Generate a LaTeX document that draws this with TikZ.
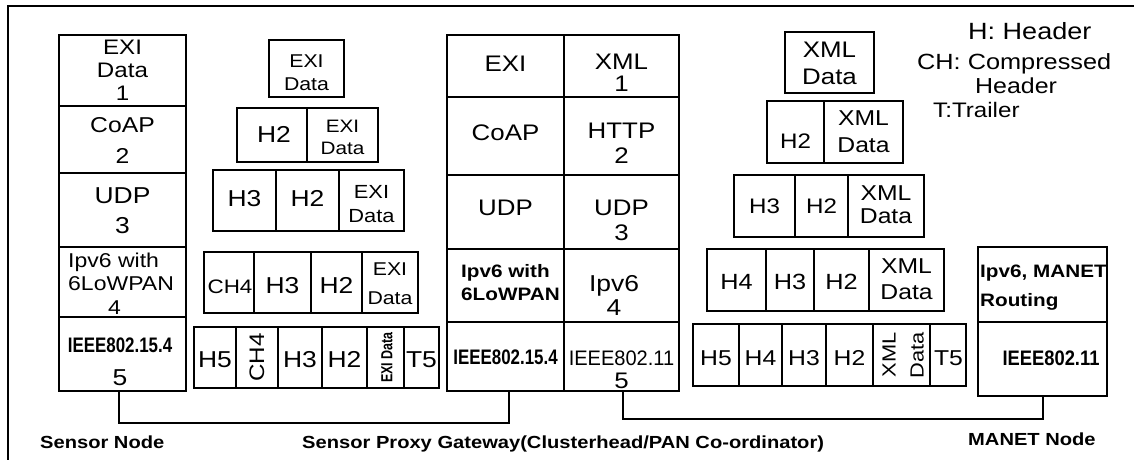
\documentclass[tikz,border=0pt]{standalone}
\usepackage{fontspec}
\usepackage{graphicx}
\setmainfont{Liberation Sans}[FakeStretch=1.15]
\usetikzlibrary{fit}
\newcommand{\fsz}[2]{\fontsize{#1}{#2}\selectfont}
\newcommand{\hsc}[2]{\scalebox{#1}[1]{#2}}
\newcommand{\ml}[1]{\begin{tabular}[t]{@{}c@{}}#1\end{tabular}}
\newcommand{\mll}[1]{\begin{tabular}[t]{@{}l@{}}#1\end{tabular}}
\begin{document}
\begin{tikzpicture}[x=1pt,y=-1pt,
  cell/.style={draw, line width=1.6pt, inner sep=0pt},
  t/.style={inner sep=0pt, anchor=base},
  wire/.style={draw, line width=1.6pt},
  lbl/.style={inner sep=0pt, anchor=base west, font=\bfseries\fsz{17.5}{20}},
  leg/.style={inner sep=0pt, anchor=base west}]
\useasboundingbox (0,0) rectangle (1134,460);
\fill[white] (0,0) rectangle (1134,460);
\draw[line width=1.6pt] (8,460) -- (8,6) -- (1134,6);

% ---------- cells ----------
% Sensor node stack
\node[cell, fit={(59,35)(186,106)}] (s1) {};
\node[cell, fit={(59,106)(186,173)}] (s2) {};
\node[cell, fit={(59,173)(186,247)}] (s3) {};
\node[cell, fit={(59,247)(186,317)}] (s4) {};
\node[cell, fit={(59,317)(186,391)}] (s5) {};
% EXI encapsulation
\node[cell, fit={(269,40)(344,97)}] (a1) {};
\node[cell, fit={(237,108)(307,162)}] (b1) {};
\node[cell, fit={(307,108)(378,162)}] (b2) {};
\node[cell, fit={(213,170)(276,231)}] (c1) {};
\node[cell, fit={(276,170)(339,231)}] (c2) {};
\node[cell, fit={(339,170)(404,231)}] (c3) {};
\node[cell, fit={(204,252)(254,313)}] (d1) {};
\node[cell, fit={(254,252)(311,313)}] (d2) {};
\node[cell, fit={(311,252)(362,313)}] (d3) {};
\node[cell, fit={(362,252)(418,313)}] (d4) {};
\node[cell, fit={(194,327)(236,388)}] (e1) {};
\node[cell, fit={(236,327)(278,388)}] (e2) {};
\node[cell, fit={(278,327)(322,388)}] (e3) {};
\node[cell, fit={(322,327)(367,388)}] (e4) {};
\node[cell, fit={(367,327)(404,388)}] (e5) {};
\node[cell, fit={(404,327)(439,388)}] (e6) {};
% Gateway stack
\node[cell, fit={(447,35)(564,97)}] (g11) {};
\node[cell, fit={(564,35)(679,97)}] (g12) {};
\node[cell, fit={(447,97)(564,175)}] (g21) {};
\node[cell, fit={(564,97)(679,175)}] (g22) {};
\node[cell, fit={(447,175)(564,249)}] (g31) {};
\node[cell, fit={(564,175)(679,249)}] (g32) {};
\node[cell, fit={(447,249)(564,322)}] (g41) {};
\node[cell, fit={(564,249)(679,322)}] (g42) {};
\node[cell, fit={(447,322)(564,391)}] (g51) {};
\node[cell, fit={(564,322)(679,391)}] (g52) {};
% XML encapsulation
\node[cell, fit={(785,32)(874,93)}] (x1) {};
\node[cell, fit={(767,101)(824,163)}] (x2a) {};
\node[cell, fit={(824,101)(903,163)}] (x2b) {};
\node[cell, fit={(734,175)(795,237)}] (x3a) {};
\node[cell, fit={(795,175)(848,237)}] (x3b) {};
\node[cell, fit={(848,175)(924,237)}] (x3c) {};
\node[cell, fit={(707,249)(766,311)}] (x4a) {};
\node[cell, fit={(766,249)(814,311)}] (x4b) {};
\node[cell, fit={(814,249)(869,311)}] (x4c) {};
\node[cell, fit={(869,249)(944,311)}] (x4d) {};
\node[cell, fit={(693,324)(739,386)}] (x5a) {};
\node[cell, fit={(739,324)(782,386)}] (x5b) {};
\node[cell, fit={(782,324)(826,386)}] (x5c) {};
\node[cell, fit={(826,324)(873,386)}] (x5d) {};
\node[cell, fit={(873,324)(930,386)}] (x5e) {};
\node[cell, fit={(930,324)(966,386)}] (x5f) {};
% MANET node
\node[cell, fit={(978,247)(1107,322)}] (m1) {};
\node[cell, fit={(978,322)(1107,396)}] (m2) {};

% ---------- texts ----------
\node[t, font=\fsz{21}{23}] (ts1) at (122.5,55) {\ml{EXI\\Data\\1}};
\node[t, font=\fsz{21.5}{31}] (ts2) at (122.5,132) {\ml{CoAP\\2}};
\node[t, font=\fsz{23}{30}] (ts3) at (122.5,203) {\ml{UDP\\3}};
\node[t, anchor=base west, font=\fsz{20}{23.5}] (ts4) at (68,267) {\mll{Ipv6 with\\6LoWPAN\\\hspace*{40pt}4}};
\node[t, font=\fsz{21}{33}] (ts5) at (120,352) {\ml{\hsc{0.7}{\bfseries IEEE802.15.4}\\{\fsz{23}{33}5}}};

\node[t, font=\fsz{18.5}{23}] (ta1) at (306.5,67) {\ml{EXI\\Data}};
\node[t, font=\fsz{23}{26}] (tb1) at (274,142) {H2};
\node[t, font=\fsz{18}{22}] (tb2) at (342.5,132) {\ml{EXI\\Data}};
\node[t, font=\fsz{23}{26}] (tc1) at (244.5,206) {H3};
\node[t, font=\fsz{23}{26}] (tc2) at (307.5,206) {H2};
\node[t, font=\fsz{19}{24}] (tc3) at (371.5,198) {\ml{EXI\\Data}};
\node[t, font=\fsz{19.5}{26}] (td1) at (230,293) {CH4};
\node[t, font=\fsz{23}{26}] (td2) at (282.5,293) {H3};
\node[t, font=\fsz{23}{26}] (td3) at (336.5,293) {H2};
\node[t, font=\fsz{18.5}{29}] (td4) at (390,275) {\ml{EXI\\Data}};
\node[t, font=\fsz{23}{26}] (te1) at (215,367) {H5};
\node[t, anchor=center, font=\fsz{21}{24}] (te2) at (257,357.5) {\rotatebox{90}{CH4}};
\node[t, font=\fsz{23}{26}] (te3) at (300,367) {H3};
\node[t, font=\fsz{23}{26}] (te4) at (344.5,367) {H2};
\node[t, anchor=center, font=\bfseries\fsz{16}{18}] (te5) at (387,357.5) {\rotatebox{90}{\hsc{0.68}{EXI Data}}};
\node[t, font=\fsz{23}{26}] (te6) at (421.5,367) {T5};

\node[t, font=\fsz{22.5}{26}] (tg11) at (505.5,71) {EXI};
\node[t, font=\fsz{22.5}{20}] (tg12) at (621.5,70) {\ml{XML\\1}};
\node[t, font=\fsz{22.5}{26}] (tg21) at (505.5,140) {CoAP};
\node[t, font=\fsz{22.5}{25}] (tg22) at (621.5,138) {\ml{HTTP\\2}};
\node[t, font=\fsz{22.5}{26}] (tg31) at (505.5,215) {UDP};
\node[t, font=\fsz{22.5}{25}] (tg32) at (621.5,215) {\ml{UDP\\3}};
\node[t, anchor=base west, font=\bfseries\fsz{18}{23}] (tg41) at (461,277) {\mll{Ipv6 with\\6LoWPAN}};
\node[t, font=\fsz{23}{24}] (tg42) at (614,291) {\ml{Ipv6\\4}};
\node[t, font=\bfseries\fsz{21}{24}] (tg51) at (505.5,364) {\hsc{0.7}{IEEE802.15.4}};
\node[t, font=\fsz{21}{23}] (tg52) at (621.5,365) {\ml{\hsc{0.83}{IEEE802.11}\\{\fsz{22.5}{23}5}}};

\node[t, font=\fsz{22.5}{26}] (tx1) at (829.5,58) {\ml{XML\\Data}};
\node[t, font=\fsz{21}{26}] (tx2a) at (795.5,148) {H2};
\node[t, font=\fsz{21.5}{27}] (tx2b) at (863.5,125) {\ml{XML\\Data}};
\node[t, font=\fsz{21}{26}] (tx3a) at (764.5,213) {H3};
\node[t, font=\fsz{21}{26}] (tx3b) at (821.5,213) {H2};
\node[t, font=\fsz{21.5}{23}] (tx3c) at (886,200) {\ml{XML\\Data}};
\node[t, font=\fsz{22}{26}] (tx4a) at (736.5,289) {H4};
\node[t, font=\fsz{22}{26}] (tx4b) at (790,289) {H3};
\node[t, font=\fsz{22}{26}] (tx4c) at (841.5,289) {H2};
\node[t, font=\fsz{21.5}{26}] (tx4d) at (906.5,273) {\ml{XML\\Data}};
\node[t, font=\fsz{21.5}{26}] (tx5a) at (716,365) {H5};
\node[t, font=\fsz{21.5}{26}] (tx5b) at (760.5,365) {H4};
\node[t, font=\fsz{21.5}{26}] (tx5c) at (804,365) {H3};
\node[t, font=\fsz{21.5}{26}] (tx5d) at (849.5,365) {H2};
\node[t, anchor=center, font=\fsz{19}{28}] (tx5e) at (904,355) {\rotatebox{90}{\begin{tabular}{@{}c@{}}XML\\Data\end{tabular}}};
\node[t, font=\fsz{21.5}{26}] (tx5f) at (948.5,365) {T5};

\node[t, anchor=base west, font=\bfseries\fsz{18}{29}] (tm1) at (980,277) {\mll{Ipv6, MANET\\Routing}};
\node[t, font=\bfseries\fsz{21}{24}] (tm2) at (1051,365) {\hsc{0.76}{IEEE802.11}};

% ---------- connectors ----------
\draw[wire] ([xshift=-3.5pt]s5.south) -- ++(0,31) -| ([xshift=3.5pt]g51.south);
\draw[wire] ([xshift=1.5pt]g52.south) -- ++(0,27) -| ([xshift=0.5pt]m2.south);

% ---------- labels ----------
\node[lbl] (ln1) at (40,448) {Sensor Node};
\node[lbl] (ln2) at (302,448) {Sensor Proxy Gateway(Clusterhead/PAN Co-ordinator)};
\node[lbl] (ln3) at (968,445) {MANET Node};

% ---------- legend ----------
\node[leg, font=\fsz{23.5}{26}] (h1) at (968,40) {H: Header};
\node[leg, font=\fsz{22}{26}] (h2) at (917,70) {CH: Compressed};
\node[leg, font=\fsz{21.7}{26}] (h3) at (975,93) {Header};
\node[leg, font=\fsz{21}{26}] (h4) at (933,117) {T:Trailer};
\end{tikzpicture}
\end{document}
